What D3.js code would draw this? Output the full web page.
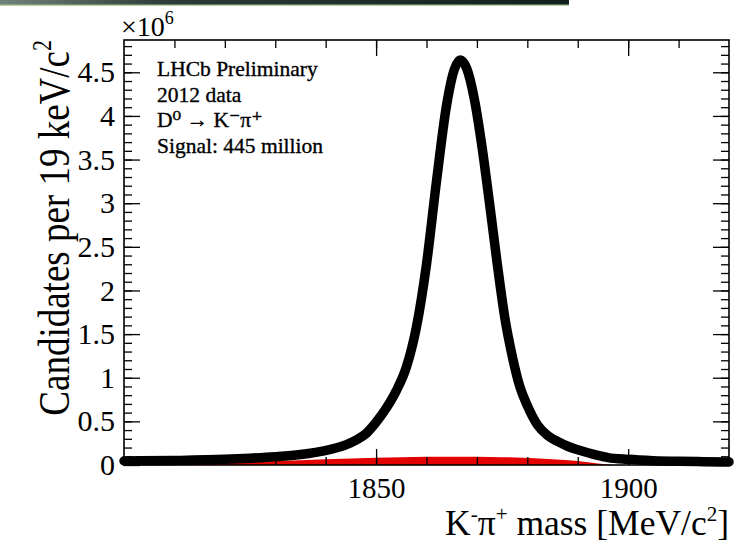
<!DOCTYPE html>
<html>
<head>
<meta charset="utf-8">
<script src="https://cdn.jsdelivr.net/npm/d3@7"></script>
<style>
  body { margin: 0; background: #fff; }
  svg { display: block; }
  text { font-family: "Liberation Serif", "DejaVu Serif", serif; fill: #000; }
</style>
</head>
<body>
<svg id="graph"></svg>
<script>
// D0 -> K-pi+ mass (millions per bin)
var mass = [1800, 1810, 1820, 1825, 1830, 1835, 1838, 1841, 1844, 1846, 1848, 1850, 1852, 1854, 1856, 1858, 1860, 1862, 1864, 1865.5, 1866.7, 1868, 1869.5, 1871, 1872.5, 1874, 1875.5, 1877, 1878.5, 1880, 1882, 1884, 1886, 1888, 1890, 1892, 1894, 1896, 1900, 1905, 1910, 1915, 1920];
var candidates = [0.046, 0.052, 0.065, 0.078, 0.095, 0.12, 0.145, 0.18, 0.23, 0.285, 0.36, 0.49, 0.65, 0.85, 1.12, 1.58, 2.30, 3.26, 4.13, 4.53, 4.64, 4.54, 4.19, 3.65, 3.00, 2.32, 1.70, 1.25, 0.90, 0.68, 0.46, 0.34, 0.27, 0.215, 0.175, 0.14, 0.11, 0.085, 0.065, 0.05, 0.042, 0.038, 0.035];
// background component (red)
var bkgMass = [1800, 1820, 1835, 1845, 1855, 1865, 1875, 1885, 1890, 1894, 1897];
var bkgValue = [0.025, 0.035, 0.055, 0.075, 0.09, 0.095, 0.09, 0.065, 0.045, 0.018, 0.0];

var xMajor = [1850, 1900];
var yMajor = [0, 0.5, 1, 1.5, 2, 2.5, 3, 3.5, 4, 4.5];
var yLabels = ["0", "0.5", "1", "1.5", "2", "2.5", "3", "3.5", "4", "4.5"];
var legendLines = ["LHCb Preliminary", "2012 data", "D\u2070 \u2192 K\u207B\u03C0\u207A", "Signal: 445 million"];

var width = 744, height = 548;
var svg = d3.select("#graph").attr("width", width).attr("height", height);

// dark banner strip at the top
var grad = svg.append("defs").append("linearGradient").attr("id", "bar");
grad.append("stop").attr("offset", "0%").attr("stop-color", "#6f827a");
grad.append("stop").attr("offset", "30%").attr("stop-color", "#2b3b37");
grad.append("stop").attr("offset", "100%").attr("stop-color", "#10201c");
svg.append("rect").attr("x", 0).attr("y", 0).attr("width", 569).attr("height", 5).attr("fill", "url(#bar)");
svg.append("rect").attr("x", 0).attr("y", 4.5).attr("width", 569).attr("height", 1.3).attr("fill", "#a9c196");

var x = d3.scaleLinear().domain([1800, 1920]).range([124, 729]);
var y = d3.scaleLinear().domain([0, 4.87]).range([465, 40]);

// red background
var area = d3.area().x((d, i) => x(bkgMass[i])).y0(y(0)).y1((d, i) => y(d)).curve(d3.curveMonotoneX);
svg.append("path").datum(bkgValue).attr("d", area).attr("fill", "#e30000");

// data
var line = d3.line().x((d, i) => x(mass[i])).y((d, i) => y(d)).curve(d3.curveMonotoneX);
svg.append("path").datum(candidates).attr("d", line)
    .attr("fill", "none").attr("stroke", "#000").attr("stroke-width", 9.5)
    .attr("stroke-linecap", "round").attr("stroke-linejoin", "round");

// axes (ticks inside, mirrored)
var xMinor = d3.range(1810, 1920, 10);
var yMinor = d3.range(0.1, 4.87, 0.1);
function tickStyle(g) {
    g.select(".domain").remove();
    g.selectAll("line").attr("stroke", "#000").attr("stroke-width", 1.3);
}
svg.append("g").attr("transform", "translate(0,465)")
    .call(d3.axisBottom(x).tickValues(xMinor).tickSize(-8).tickFormat("")).call(tickStyle);
svg.append("g").attr("transform", "translate(0,465)")
    .call(d3.axisBottom(x).tickValues(xMajor).tickSize(-16).tickPadding(12).tickFormat(d3.format("d")))
    .call(tickStyle)
    .selectAll("text").attr("font-size", 29).attr("font-family", "Liberation Serif");
svg.append("g").attr("transform", "translate(0,40)")
    .call(d3.axisTop(x).tickValues(xMinor).tickSize(-8).tickFormat("")).call(tickStyle);
svg.append("g").attr("transform", "translate(0,40)")
    .call(d3.axisTop(x).tickValues(xMajor).tickSize(-16).tickFormat("")).call(tickStyle);

svg.append("g").attr("transform", "translate(124,0)")
    .call(d3.axisLeft(y).tickValues(yMinor).tickSize(-8).tickFormat("")).call(tickStyle);
svg.append("g").attr("transform", "translate(124,0)")
    .call(d3.axisLeft(y).tickValues(yMajor).tickSize(-16).tickPadding(9).tickFormat((d, i) => yLabels[i]))
    .call(tickStyle)
    .selectAll("text").attr("font-size", 30).attr("font-family", "Liberation Serif");
svg.append("g").attr("transform", "translate(729,0)")
    .call(d3.axisRight(y).tickValues(yMinor).tickSize(-8).tickFormat("")).call(tickStyle);
svg.append("g").attr("transform", "translate(729,0)")
    .call(d3.axisRight(y).tickValues(yMajor).tickSize(-16).tickFormat("")).call(tickStyle);

// frame
svg.append("rect").attr("x", 124).attr("y", 40).attr("width", 605).attr("height", 425)
    .attr("fill", "none").attr("stroke", "#000").attr("stroke-width", 1.6);

// exponent
var ex = svg.append("text").attr("x", 121).attr("y", 36).attr("font-size", 28);
ex.append("tspan").text("\u00D710");
ex.append("tspan").attr("font-size", 18).attr("dy", -12).text("6");

// legend
svg.selectAll(".leg").data(legendLines).enter().append("text").attr("class", "leg")
    .attr("x", 157).attr("y", (d, i) => 76 + i * 25.5)
    .attr("font-size", 21.5).attr("stroke", "#000").attr("stroke-width", 0.35).text(d => d);

// axis titles
var xt = svg.append("text").attr("x", 729).attr("y", 535).attr("text-anchor", "end").attr("font-size", 35.5);
xt.append("tspan").text("K");
xt.append("tspan").attr("font-size", 21).attr("dy", -14).text("-");
xt.append("tspan").attr("dy", 14).text("\u03C0");
xt.append("tspan").attr("font-size", 21).attr("dy", -14).text("+");
xt.append("tspan").attr("dy", 14).text(" mass [MeV/c");
xt.append("tspan").attr("font-size", 21).attr("dy", -14).text("2");
xt.append("tspan").attr("dy", 14).text("]");

var yt = svg.append("text").attr("transform", "translate(69,40) rotate(-90) scale(1,1.2)")
    .attr("text-anchor", "end").attr("font-size", 37);
yt.append("tspan").text("Candidates per 19 keV/c");
yt.append("tspan").attr("font-size", 22).attr("dy", -15).text("2");
</script>
</body>
</html>
